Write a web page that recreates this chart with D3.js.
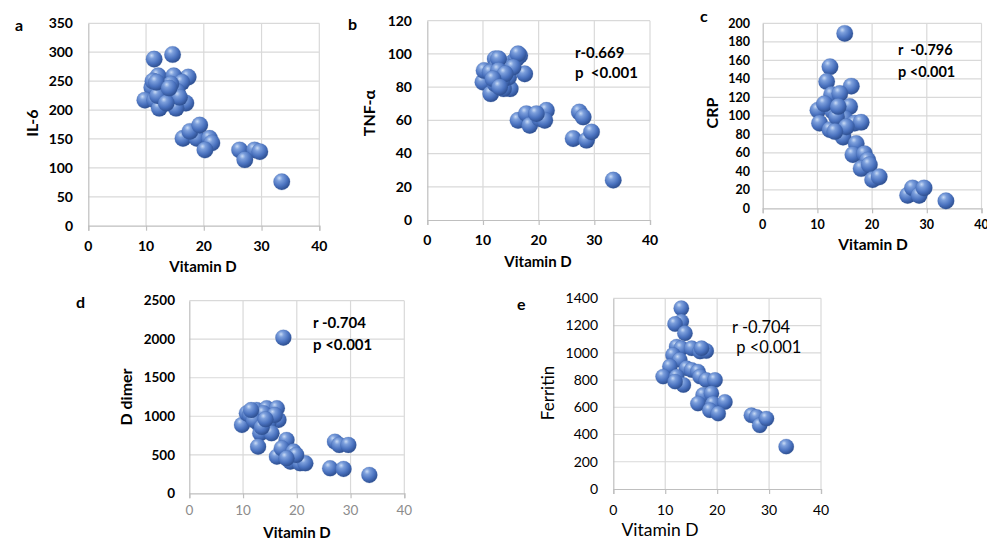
<!DOCTYPE html>
<html><head><meta charset="utf-8">
<script src="https://cdn.jsdelivr.net/npm/d3@7/dist/d3.min.js"></script>
<style>html,body{margin:0;padding:0;background:#fff;}svg{display:block;font-family:Lato,"Open Sans",sans-serif;}</style>
</head><body><svg id="c" width="987" height="540"></svg>
<script>
// ---- data ----
const xTicks = [0, 10, 20, 30, 40];
const il6Ticks = [0, 50, 100, 150, 200, 250, 300, 350];
const tnfTicks = [0, 20, 40, 60, 80, 100, 120];
const crpTicks = [0, 20, 40, 60, 80, 100, 120, 140, 160, 180, 200];
const ddTicks = [0, 500, 1000, 1500, 2000, 2500];
const ferTicks = [0, 200, 400, 600, 800, 1000, 1200, 1400];

const il6X = [11.4, 14.6, 17.3, 12.1, 14.8, 16.2, 11.0, 12.7, 9.8, 11.5, 12.9, 14.6, 16.9, 12.3, 15.2, 13.7, 15.4, 14.3, 11.2, 13.0, 12.0, 15.8, 13.5, 11.8, 14.0, 16.4, 18.8, 21.0, 21.4, 20.2, 17.6, 19.3, 26.2, 28.8, 29.7, 27.1, 33.5];
const il6Y = [288, 296, 257, 259, 259, 248, 239, 239, 217, 217, 217, 217, 212, 203, 203, 226, 232, 245, 250, 230, 225, 222, 212, 248, 238, 151, 151, 151, 143, 131, 163, 174, 131, 131, 128, 114, 76];

const tnfX = [10.0, 10.2, 11.4, 12.2, 12.5, 13.1, 12.2, 14.3, 14.9, 13.7, 14.6, 15.4, 16.6, 16.0, 17.5, 14.3, 11.3, 12.8, 16.3, 13.4, 15.4, 12.8, 14.0, 11.8, 13.0, 16.3, 17.8, 18.4, 20.2, 21.4, 21.1, 19.6, 27.3, 28.0, 26.2, 28.6, 29.5, 33.4];
const tnfY = [83, 90, 76, 97, 93, 87, 82, 82, 79, 79, 86, 95, 99, 97, 88, 92, 89, 97, 100, 84, 92, 90, 88, 85, 80, 60, 64, 57, 61, 66, 60, 64, 65, 62, 49, 48, 53, 24];

const crpX = [15.0, 12.3, 11.7, 16.2, 12.6, 14.1, 10.1, 12.8, 15.9, 10.4, 12.3, 15.0, 16.8, 18.0, 14.7, 17.1, 16.5, 18.6, 19.2, 18.0, 19.5, 20.1, 21.3, 26.5, 27.4, 28.6, 29.5, 33.5, 13.5, 11.3, 13.8, 15.3, 13.2];
const crpY = [189, 153, 137, 132, 123, 124, 106, 105, 110, 92, 85, 97, 92, 93, 77, 70, 58, 59, 52, 43, 47, 31, 34, 14, 22, 14, 22, 8, 99, 113, 110, 88, 83];

const ddX = [17.5, 9.8, 10.7, 12.5, 14.4, 16.3, 16.6, 14.7, 12.8, 13.2, 15.3, 12.8, 11.3, 13.8, 15.9, 12.0, 13.5, 14.2, 11.5, 18.1, 16.3, 17.2, 19.4, 18.8, 20.6, 21.6, 19.9, 18.1, 27.1, 27.9, 29.6, 26.2, 28.7, 33.5];
const ddY = [2020, 887, 1038, 1081, 1103, 1103, 952, 908, 908, 779, 779, 605, 1016, 1038, 1016, 950, 860, 960, 1080, 692, 476, 584, 541, 411, 389, 389, 497, 454, 670, 627, 627, 324, 316, 238];

const ferX = [13.1, 13.1, 11.9, 13.8, 12.2, 13.1, 11.5, 12.8, 15.1, 16.7, 17.9, 17.0, 10.9, 14.1, 15.1, 16.3, 9.6, 12.2, 13.5, 11.9, 16.7, 17.9, 19.6, 17.3, 18.9, 16.3, 19.2, 21.5, 18.6, 20.2, 26.6, 27.6, 28.2, 29.5, 33.3];
const ferY = [1327, 1229, 1211, 1143, 1045, 1033, 984, 948, 1033, 1009, 1013, 1033, 899, 886, 874, 862, 825, 825, 764, 788, 825, 800, 800, 690, 702, 627, 627, 639, 578, 553, 541, 529, 467, 517, 311];

// ---- layout ----
const panels = [
  {letter: "a", lx: 15, ly: 31, ylabel: "IL-6", xs: il6X, ys: il6Y, yTicks: il6Ticks, yMax: 350,
   x0: 88.3, x1: 319.3, y0: 225.7, y1: 23.3, r: 8.3, tickSize: 14, tickW: "bold", xTickColor: "#000", xTickY: 251,
   ylx: 38, yly: 123, ylSize: 16, ylW: "bold", xlx: 203, xly: 272, xlSize: 15, xlW: "bold", ytx: 73, ann: []},
  {letter: "b", lx: 348, ly: 30, ylabel: "TNF-\u03b1", xs: tnfX, ys: tnfY, yTicks: tnfTicks, yMax: 120,
   x0: 427.3, x1: 650, y0: 220, y1: 20.7, r: 8.3, tickSize: 14, tickW: "bold", xTickColor: "#000", xTickY: 245,
   ylx: 375, yly: 113, ylSize: 16, ylW: "bold", xlx: 538, xly: 267, xlSize: 15, xlW: "bold", ytx: 412,
   ann: [{t: "r-0.669", x: 575, y: 58}, {t: "p  <0.001", x: 575, y: 78}], annSize: 15, annW: "bold"},
  {letter: "c", lx: 700, ly: 22, ylabel: "CRP", xs: crpX, ys: crpY, yTicks: crpTicks, yMax: 200,
   x0: 762.7, x1: 981.5, y0: 208.3, y1: 23.3, r: 8.3, tickSize: 12.5, tickW: "bold", xTickColor: "#000", xTickY: 229,
   ylx: 718, yly: 113, ylSize: 16, ylW: "bold", xlx: 873, xly: 250, xlSize: 15.5, xlW: "bold", ytx: 750,
   ann: [{t: "r  -0.796", x: 898, y: 55}, {t: "p <0.001", x: 898, y: 77}], annSize: 14.5, annW: "bold"},
  {letter: "d", lx: 76, ly: 308, ylabel: "D dimer", xs: ddX, ys: ddY, yTicks: ddTicks, yMax: 2500,
   x0: 189.3, x1: 404.3, y0: 493.3, y1: 300.7, r: 8, tickSize: 13.5, tickW: "bold", xTickColor: "#8c8c8c", xTickW: "normal", xTickY: 515,
   ylx: 132, yly: 397, ylSize: 16, ylW: "bold", xlx: 297, xly: 538, xlSize: 15, xlW: "bold", ytx: 175,
   ann: [{t: "r -0.704", x: 313, y: 328}, {t: "p <0.001", x: 313, y: 350}], annSize: 15, annW: "bold"},
  {letter: "e", lx: 517, ly: 310, ylabel: "Ferritin", xs: ferX, ys: ferY, yTicks: ferTicks, yMax: 1400,
   x0: 613.3, x1: 821, y0: 489, y1: 298.3, r: 7.7, tickSize: 14, tickW: "normal", xTickColor: "#000", xTickY: 515,
   ylx: 554, yly: 393, ylSize: 17, ylW: "normal", xlx: 660, xly: 536, xlSize: 17.5, xlW: "normal", ytx: 598,
   ann: [{t: "r -0.704", x: 732, y: 333}, {t: " p <0.001", x: 732, y: 353}], annSize: 16.5, annW: "normal"}
];

const svg = d3.select("#c");
const defs = svg.append("defs");
const grad = defs.append("radialGradient").attr("id", "ball")
  .attr("cx", "38%").attr("cy", "32%").attr("r", "70%").attr("fx", "35%").attr("fy", "28%");
grad.append("stop").attr("offset", "0%").attr("stop-color", "#c9dbf5");
grad.append("stop").attr("offset", "25%").attr("stop-color", "#7c9fdc");
grad.append("stop").attr("offset", "65%").attr("stop-color", "#4a72bf");
grad.append("stop").attr("offset", "100%").attr("stop-color", "#2c4d8e");

panels.forEach(p => {
  const g = svg.append("g");
  const x = d3.scaleLinear().domain([0, 40]).range([p.x0, p.x1]);
  const y = d3.scaleLinear().domain([0, p.yMax]).range([p.y0, p.y1]);

  // grid
  g.selectAll(".hg").data(p.yTicks.slice(1)).join("line")
    .attr("x1", p.x0).attr("x2", p.x1).attr("y1", d => y(d)).attr("y2", d => y(d))
    .attr("stroke", "#d9d9d9").attr("stroke-width", 1.2);
  g.selectAll(".vg").data(xTicks.slice(1)).join("line")
    .attr("x1", d => x(d)).attr("x2", d => x(d)).attr("y1", p.y0).attr("y2", p.y1)
    .attr("stroke", "#d9d9d9").attr("stroke-width", 1.2);

  // axes
  const xa = g.append("g").attr("transform", `translate(0,${p.y0})`)
    .call(d3.axisBottom(x).tickValues(xTicks).tickSize(5).tickFormat(""));
  xa.select(".domain").attr("stroke", "#bfbfbf").attr("stroke-width", 1.2);
  xa.selectAll(".tick line").attr("stroke", "#bfbfbf").attr("stroke-width", 1.2);
  const ya = g.append("g").attr("transform", `translate(${p.x0},0)`)
    .call(d3.axisLeft(y).tickValues(p.yTicks).tickSize(0).tickFormat(""));
  ya.select(".domain").attr("stroke", "#bfbfbf").attr("stroke-width", 1.2);

  // tick labels
  g.selectAll(".xt").data(xTicks).join("text")
    .attr("x", d => x(d)).attr("y", p.xTickY).attr("text-anchor", "middle")
    .attr("font-size", p.tickSize).attr("font-weight", p.xTickW || p.tickW).attr("fill", p.xTickColor)
    .text(d => d);
  g.selectAll(".yt").data(p.yTicks).join("text")
    .attr("x", p.ytx).attr("y", d => y(d)).attr("dy", "0.35em").attr("text-anchor", "end")
    .attr("font-size", p.tickSize).attr("font-weight", p.tickW).attr("fill", "#000")
    .text(d => d);

  // titles
  g.append("text").attr("x", p.xlx).attr("y", p.xly).attr("text-anchor", "middle")
    .attr("font-size", p.xlSize).attr("font-weight", p.xlW).text("Vitamin D");
  g.append("text").attr("transform", `translate(${p.ylx},${p.yly}) rotate(-90)`).attr("text-anchor", "middle")
    .attr("font-size", p.ylSize).attr("font-weight", p.ylW).text(p.ylabel);
  g.append("text").attr("x", p.lx).attr("y", p.ly).attr("font-size", 16).attr("font-weight", "bold").text(p.letter);

  // annotations
  g.selectAll(".an").data(p.ann).join("text")
    .attr("x", d => d.x).attr("y", d => d.y).attr("font-size", p.annSize).attr("font-weight", p.annW)
    .attr("xml:space", "preserve").style("white-space", "pre").text(d => d.t);

  // points
  const pts = p.xs.map((v, i) => [v, p.ys[i]]);
  g.selectAll(".pt").data(pts).join("circle")
    .attr("cx", d => x(d[0])).attr("cy", d => y(d[1])).attr("r", p.r)
    .attr("fill", "url(#ball)").attr("stroke", "#3a5fa3").attr("stroke-opacity", 0.35).attr("stroke-width", 0.6);
});
</script></body></html>
